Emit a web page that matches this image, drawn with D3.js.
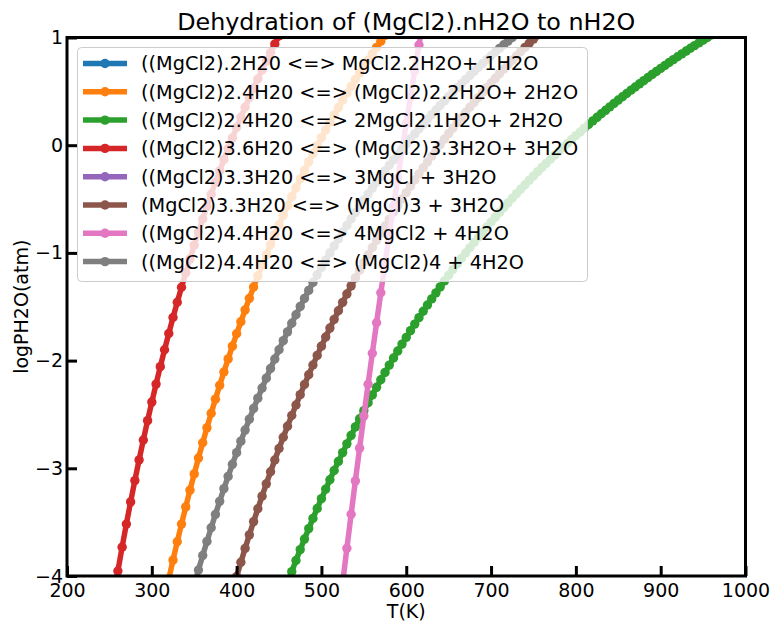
<!DOCTYPE html>
<html>
<head>
<meta charset="utf-8">
<script src="https://cdn.jsdelivr.net/npm/d3@7"></script>
<style>
  html, body { margin: 0; padding: 0; background: #fff; }
  svg { display: block; font-family: "DejaVu Sans", sans-serif; }
</style>
</head>
<body>
<svg id="chart" width="771" height="621"></svg>
<script>
// ---------------- data ----------------
const chartTitle = "Dehydration of (MgCl2).nH2O to nH2O";
const xLabel = "T(K)";
const yLabel = "logPH2O(atm)";
const xTicks = [200, 300, 400, 500, 600, 700, 800, 900, 1000];
const yTicks = [-4, -3, -2, -1, 0, 1];

const seriesLabels = [
  "((MgCl2).2H20 <=> MgCl2.2H2O+ 1H2O",
  "((MgCl2)2.4H20 <=> (MgCl2)2.2H2O+ 2H2O",
  "((MgCl2)2.4H20 <=> 2MgCl2.1H2O+ 2H2O",
  "((MgCl2)3.6H20 <=> (MgCl2)3.3H2O+ 3H2O",
  "((MgCl2)3.3H20 <=> 3MgCl + 3H2O",
  "(MgCl2)3.3H20 <=> (MgCl)3 + 3H2O",
  "((MgCl2)4.4H20 <=> 4MgCl2 + 4H2O",
  "((MgCl2)4.4H20 <=> (MgCl2)4 + 4H2O"
];
const seriesColors = ["#1f77b4", "#ff7f0e", "#2ca02c", "#d62728", "#9467bd", "#8c564b", "#e377c2", "#7f7f7f"];

// series 1 (blue) : no points inside the plotted window
const blueT = [];
const blueLogP = [];

// series 2 (orange)
const orangeT = [320,325,330,335,340,345,350,355,360,365,370,375,380,385,390,395,400,405,410,415,420,425,430,435,440,445,450,455,460,465,470,475,480,485,490,495,500,505,510,515,520,525,530,535,540,545,550,555,560,565,570,575];
const orangeLogP = [-4.027,-3.852,-3.682,-3.518,-3.358,-3.203,-3.052,-2.905,-2.763,-2.624,-2.489,-2.358,-2.230,-2.106,-1.984,-1.866,-1.751,-1.639,-1.529,-1.422,-1.317,-1.215,-1.116,-1.018,-0.923,-0.830,-0.739,-0.650,-0.563,-0.478,-0.395,-0.313,-0.234,-0.155,-0.079,-0.004,0.070,0.142,0.213,0.282,0.350,0.417,0.482,0.546,0.610,0.671,0.732,0.792,0.850,0.908,0.965,1.020];

// series 3 (green)
const greenT = [460,465,470,475,480,485,490,495,500,505,510,515,520,525,530,535,540,545,550,555,560,565,570,575,580,585,590,595,600,605,610,615,620,625,630,635,640,645,650,655,660,665,670,675,680,685,690,695,700,705,710,715,720,725,730,735,740,745,750,755,760,765,770,775,780,785,790,795,800,805,810,815,820,825,830,835,840,845,850,855,860,865,870,875,880,885,890,895,900,905,910,915,920,925,930,935,940,945,950,955,960];
const greenLogP = [-4.064,-3.959,-3.856,-3.755,-3.657,-3.560,-3.465,-3.373,-3.282,-3.193,-3.106,-3.020,-2.936,-2.854,-2.773,-2.694,-2.616,-2.540,-2.465,-2.391,-2.319,-2.248,-2.178,-2.110,-2.042,-1.976,-1.911,-1.847,-1.784,-1.722,-1.661,-1.601,-1.542,-1.484,-1.427,-1.371,-1.316,-1.261,-1.208,-1.155,-1.103,-1.052,-1.001,-0.952,-0.903,-0.855,-0.807,-0.760,-0.714,-0.668,-0.624,-0.579,-0.536,-0.493,-0.450,-0.408,-0.367,-0.326,-0.286,-0.246,-0.207,-0.169,-0.130,-0.093,-0.056,-0.019,0.017,0.053,0.089,0.123,0.158,0.192,0.226,0.259,0.292,0.324,0.356,0.388,0.419,0.450,0.480,0.511,0.540,0.570,0.599,0.628,0.657,0.685,0.713,0.740,0.768,0.795,0.821,0.848,0.874,0.900,0.925,0.950,0.975,1.000,1.025];

// series 4 (red)
const redT = [255,260,265,270,275,280,285,290,295,300,305,310,315,320,325,330,335,340,345,350,355,360,365,370,375,380,385,390,395,400,405,410,415,420,425,430,435,440,445,450];
const redLogP = [-4.185,-3.954,-3.732,-3.518,-3.312,-3.114,-2.922,-2.737,-2.558,-2.385,-2.218,-2.056,-1.899,-1.748,-1.600,-1.458,-1.319,-1.185,-1.055,-0.928,-0.805,-0.685,-0.569,-0.455,-0.345,-0.238,-0.133,-0.031,0.068,0.165,0.259,0.352,0.442,0.529,0.615,0.699,0.781,0.860,0.939,1.015];

// series 5 (purple) : no points inside the plotted window
const purpleT = [];
const purpleLogP = [];

// series 6 (brown)
const brownT = [400,405,410,415,420,425,430,435,440,445,450,455,460,465,470,475,480,485,490,495,500,505,510,515,520,525,530,535,540,545,550,555,560,565,570,575,580,585,590,595,600,605,610,615,620,625,630,635,640,645,650,655,660,665,670,675,680,685,690,695,700,705,710,715,720,725,730,735,740,745,750,755];
const brownLogP = [-4.005,-3.872,-3.744,-3.618,-3.495,-3.376,-3.259,-3.144,-3.032,-2.923,-2.816,-2.712,-2.610,-2.510,-2.412,-2.316,-2.222,-2.131,-2.041,-1.952,-1.866,-1.781,-1.698,-1.617,-1.537,-1.459,-1.382,-1.306,-1.232,-1.160,-1.088,-1.018,-0.950,-0.882,-0.816,-0.750,-0.686,-0.623,-0.561,-0.500,-0.440,-0.381,-0.323,-0.266,-0.210,-0.155,-0.101,-0.047,0.005,0.057,0.108,0.158,0.208,0.256,0.304,0.352,0.398,0.444,0.489,0.534,0.578,0.621,0.664,0.706,0.748,0.789,0.829,0.869,0.908,0.947,0.985,1.023];

// series 7 (pink)
const pinkT = [525,530,535,540,545,550,555,560,565,570,575,580,585,590,595,600,605,610,615,620];
const pinkLogP = [-4.065,-3.743,-3.427,-3.117,-2.813,-2.514,-2.220,-1.932,-1.649,-1.370,-1.097,-0.828,-0.564,-0.305,-0.049,0.202,0.448,0.691,0.930,1.165];

// series 8 (gray)
const grayT = [350,355,360,365,370,375,380,385,390,395,400,405,410,415,420,425,430,435,440,445,450,455,460,465,470,475,480,485,490,495,500,505,510,515,520,525,530,535,540,545,550,555,560,565,570,575,580,585,590,595,600,605,610,615,620,625,630,635,640,645,650,655,660,665,670,675,680,685,690,695,700,705,710,715,720,725,730];
const grayLogP = [-4.083,-3.944,-3.810,-3.679,-3.552,-3.428,-3.307,-3.189,-3.075,-2.963,-2.855,-2.748,-2.645,-2.544,-2.445,-2.349,-2.255,-2.163,-2.073,-1.985,-1.899,-1.815,-1.733,-1.653,-1.574,-1.497,-1.422,-1.348,-1.275,-1.204,-1.135,-1.067,-1.000,-0.935,-0.870,-0.807,-0.746,-0.685,-0.626,-0.567,-0.510,-0.453,-0.398,-0.344,-0.290,-0.238,-0.186,-0.136,-0.086,-0.037,0.011,0.059,0.105,0.151,0.196,0.241,0.284,0.327,0.370,0.411,0.452,0.493,0.532,0.572,0.610,0.648,0.686,0.723,0.759,0.795,0.830,0.865,0.899,0.933,0.967,1.000,1.032];

const seriesT = [blueT, orangeT, greenT, redT, purpleT, brownT, pinkT, grayT];
const seriesLogP = [blueLogP, orangeLogP, greenLogP, redLogP, purpleLogP, brownLogP, pinkLogP, grayLogP];

// ---------------- drawing ----------------
const svg = d3.select("#chart");
const pLeft = 67, pRight = 745.5, pTop = 37.5, pBottom = 576;

const x = d3.scaleLinear().domain([200, 1000]).range([pLeft, pRight]);
const y = d3.scaleLinear().domain([-4, 1]).range([pBottom, pTop]);

svg.append("defs").append("clipPath").attr("id", "plotclip")
  .append("rect").attr("x", pLeft).attr("y", pTop)
  .attr("width", pRight - pLeft).attr("height", pBottom - pTop);

const plot = svg.append("g").attr("clip-path", "url(#plotclip)");
const lineGen = d3.line().x(d => x(d[0])).y(d => y(d[1]));
const lw = 5.5, mr = 4.7;

seriesLabels.forEach((lab, i) => {
  const pts = seriesT[i].map((t, j) => [t, seriesLogP[i][j]]);
  const g = plot.append("g");
  if (pts.length) {
    g.append("path").attr("d", lineGen(pts))
      .attr("fill", "none").attr("stroke", seriesColors[i])
      .attr("stroke-width", lw).attr("stroke-linejoin", "round").attr("stroke-linecap", "butt");
    g.selectAll("circle").data(pts).join("circle")
      .attr("cx", d => x(d[0])).attr("cy", d => y(d[1])).attr("r", mr)
      .attr("fill", seriesColors[i]);
  }
});

// axes
const fs = 19;
const xAxis = d3.axisBottom(x).tickValues(xTicks).tickFormat(d3.format("d"))
  .tickSizeInner(-10).tickSizeOuter(0).tickPadding(8);
const gx = svg.append("g").attr("transform", `translate(0,${pBottom})`).call(xAxis);
gx.select(".domain").remove();
gx.selectAll(".tick line").attr("stroke", "#000").attr("stroke-width", 3);
gx.selectAll(".tick text").attr("font-size", fs).attr("fill", "#000")
  .attr("font-family", "DejaVu Sans, sans-serif");

const yAxis = d3.axisLeft(y).tickValues(yTicks).tickFormat(d3.format("d"))
  .tickSizeInner(-10).tickSizeOuter(0).tickPadding(4);
const gy = svg.append("g").attr("transform", `translate(${pLeft},0)`).call(yAxis);
gy.select(".domain").remove();
gy.selectAll(".tick line").attr("stroke", "#000").attr("stroke-width", 3);
gy.selectAll(".tick text").attr("font-size", fs).attr("fill", "#000")
  .attr("font-family", "DejaVu Sans, sans-serif");

// frame
svg.append("rect").attr("x", pLeft).attr("y", pTop)
  .attr("width", pRight - pLeft).attr("height", pBottom - pTop)
  .attr("fill", "none").attr("stroke", "#000").attr("stroke-width", 3);

// title & labels
svg.append("text").attr("x", (pLeft + pRight) / 2).attr("y", 30)
  .attr("text-anchor", "middle").attr("font-size", 23.8).attr("fill", "#000")
  .text(chartTitle);
svg.append("text").attr("x", (pLeft + pRight) / 2).attr("y", 618)
  .attr("text-anchor", "middle").attr("font-size", fs).attr("fill", "#000")
  .text(xLabel);
svg.append("text").attr("transform", `translate(28,${(pTop + pBottom) / 2}) rotate(-90)`)
  .attr("text-anchor", "middle").attr("font-size", fs).attr("fill", "#000")
  .text(yLabel);

// legend
const lg = svg.append("g");
lg.append("rect").attr("x", 77.5).attr("y", 47.5).attr("width", 510).attr("height", 234)
  .attr("rx", 4).attr("fill", "#fff").attr("fill-opacity", 0.8)
  .attr("stroke", "#cccccc").attr("stroke-width", 1);
seriesLabels.forEach((lab, i) => {
  const cy = 63.5 + i * 28.3;
  lg.append("line").attr("x1", 83).attr("x2", 127).attr("y1", cy).attr("y2", cy)
    .attr("stroke", seriesColors[i]).attr("stroke-width", lw);
  lg.append("circle").attr("cx", 105).attr("cy", cy).attr("r", mr).attr("fill", seriesColors[i]);
  lg.append("text").attr("x", 141).attr("y", cy).attr("dy", "0.36em")
    .attr("font-size", 19.3).attr("fill", "#000").text(lab);
});
</script>
</body>
</html>
